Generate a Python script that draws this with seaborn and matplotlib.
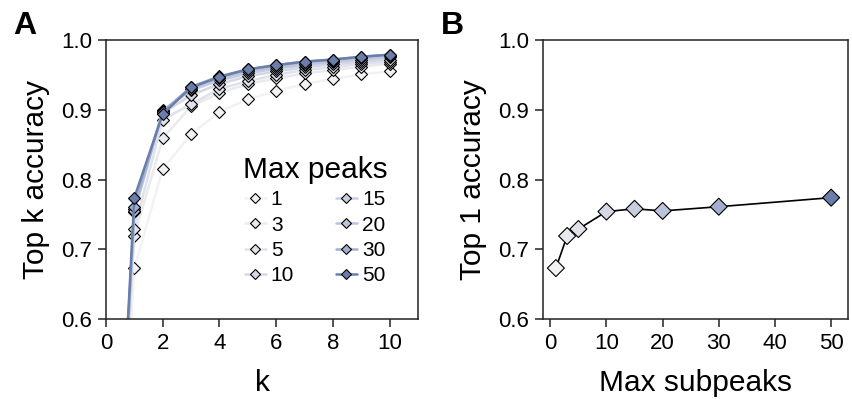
import numpy as np
import pandas as pd
import matplotlib
matplotlib.use("Agg")
import matplotlib.pyplot as plt
import seaborn as sns

sns.set_style("ticks")
plt.rcParams['font.family'] = ['Liberation Sans', 'DejaVu Sans']
plt.rcParams['text.color'] = 'black'
plt.rcParams['axes.labelcolor'] = 'black'

# ---- data ----
k_values = [0, 1, 2, 3, 4, 5, 6, 7, 8, 9, 10]
max_peaks = [1, 3, 5, 10, 15, 20, 30, 50]
acc_1  = [0, 0.673, 0.815, 0.865, 0.897, 0.915, 0.927, 0.937, 0.944, 0.951, 0.955]
acc_3  = [0, 0.719, 0.859, 0.905, 0.924, 0.937, 0.945, 0.952, 0.957, 0.962, 0.966]
acc_5  = [0, 0.729, 0.886, 0.908, 0.930, 0.941, 0.950, 0.957, 0.961, 0.966, 0.969]
acc_10 = [0, 0.754, 0.895, 0.921, 0.937, 0.948, 0.955, 0.961, 0.965, 0.969, 0.972]
acc_15 = [0, 0.758, 0.899, 0.928, 0.942, 0.952, 0.959, 0.964, 0.968, 0.972, 0.975]
acc_20 = [0, 0.755, 0.898, 0.930, 0.945, 0.955, 0.961, 0.966, 0.970, 0.974, 0.977]
acc_30 = [0, 0.761, 0.897, 0.933, 0.948, 0.958, 0.964, 0.969, 0.972, 0.976, 0.979]
acc_50 = [0, 0.774, 0.894, 0.932, 0.947, 0.958, 0.964, 0.969, 0.972, 0.976, 0.979]
series = [acc_1, acc_3, acc_5, acc_10, acc_15, acc_20, acc_30, acc_50]

top1 = [0.673, 0.719, 0.729, 0.754, 0.758, 0.755, 0.761, 0.774]

colors = ['#f2f2f4', '#e8eaee', '#dfe2ea', '#d3d8e4', '#c7cee0', '#bbc4da', '#a2afcf', '#6a7eab']
palette = {m: c for m, c in zip(max_peaks, colors)}

rows = []
for m, vals in zip(max_peaks, series):
    for kk, v in zip(k_values, vals):
        rows.append({'k': kk, 'acc': v, 'Max peaks': m})
dfA = pd.DataFrame(rows)
dfB = pd.DataFrame({'Max subpeaks': max_peaks, 'Top 1 accuracy': top1})

fig = plt.figure(figsize=(8.52, 3.99), dpi=100)
axA = fig.add_axes([0.1244, 0.2005, 0.3662, 0.6992])
axB = fig.add_axes([0.6373, 0.2005, 0.358, 0.6992])

tick_fs = 16
label_fs = 21.5

sns.lineplot(data=dfA, x='k', y='acc', hue='Max peaks', palette=palette,
             hue_order=max_peaks, marker='D', markersize=6, linewidth=1.8,
             markeredgecolor='black', markeredgewidth=0.8, ax=axA)
axA.set_xlim(0, 11)
axA.set_ylim(0.6, 1.0)
axA.set_xticks([0, 2, 4, 6, 8, 10])
axA.set_yticks([0.6, 0.7, 0.8, 0.9, 1.0])
axA.set_yticklabels(['0.6', '0.7', '0.8', '0.9', '1.0'])
axA.set_xlabel('k', fontsize=label_fs, labelpad=11)
axA.set_ylabel('Top k accuracy', fontsize=label_fs, labelpad=8)

sns.move_legend(axA, 'lower right', bbox_to_anchor=(0.962, 0.054), ncol=2,
                title='Max peaks', frameon=False, fontsize=15, title_fontsize=21.5,
                handlelength=1.0, handletextpad=0.25, columnspacing=2.0,
                labelspacing=0.3, markerscale=0.8)

# Panel B
sns.lineplot(data=dfB, x='Max subpeaks', y='Top 1 accuracy', color='black',
             linewidth=1.2, ax=axB)
sns.scatterplot(data=dfB, x='Max subpeaks', y='Top 1 accuracy', hue=max_peaks,
                palette=colors, marker='D', s=75, edgecolor='black', linewidth=0.8,
                legend=False, ax=axB, zorder=3)
axB.set_xlim(-1.3, 53)
axB.set_ylim(0.6, 1.0)
axB.set_xticks([0, 10, 20, 30, 40, 50])
axB.set_yticks([0.6, 0.7, 0.8, 0.9, 1.0])
axB.set_yticklabels(['0.6', '0.7', '0.8', '0.9', '1.0'])
axB.set_xlabel('Max subpeaks', fontsize=label_fs, labelpad=11)
axB.set_ylabel('Top 1 accuracy', fontsize=label_fs, labelpad=8)

for ax in (axA, axB):
    for sp in ax.spines.values():
        sp.set_visible(True)
        sp.set_linewidth(1.1)
        sp.set_color('#222222')
    ax.tick_params(axis='both', labelsize=tick_fs, length=6, width=1.1,
                   direction='out', top=False, right=False, colors='#222222',
                   labelcolor='black', pad=4)

fig.text(0.016, 0.935, 'A', fontsize=23, fontweight='bold', va='center')
fig.text(0.517, 0.935, 'B', fontsize=23, fontweight='bold', va='center')

fig.savefig('out.png', dpi=100)
